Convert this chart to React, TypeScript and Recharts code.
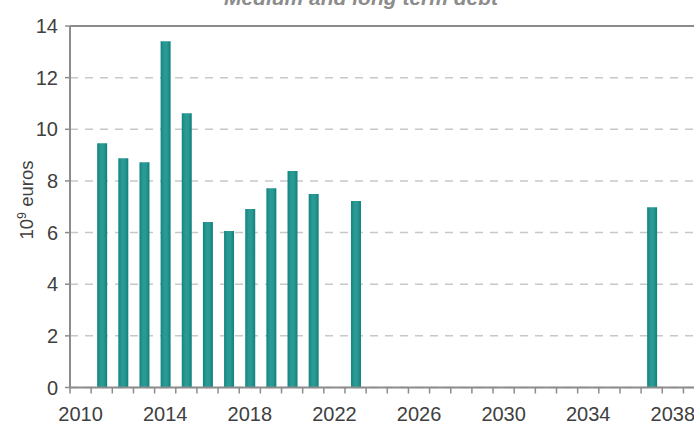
import React from "react";
import { BarChart, Bar, XAxis, YAxis, CartesianGrid, ReferenceLine } from "recharts";

const years = [2011, 2012, 2013, 2014, 2015, 2016, 2017, 2018, 2019, 2020, 2021, 2023, 2037];
const values = [9.46, 8.88, 8.72, 13.41, 10.62, 6.41, 6.06, 6.91, 7.72, 8.38, 7.49, 7.22, 6.98];
const yTicks = [0, 2, 4, 6, 8, 10, 12, 14];
const xLabelYears = [2010, 2014, 2018, 2022, 2026, 2030, 2034, 2038];
const title = "Medium and long term debt";

const data = years.map((y, i) => ({ year: y, value: values[i] }));

const xDomain = [2009.5, 2039];
const boundaries: number[] = [];
for (let b = xDomain[0]; b < xDomain[1]; b += 1) boundaries.push(b);
const xTicks = [...boundaries, ...xLabelYears].sort((a, b) => a - b);

const FONT = '"Liberation Sans", Arial, Helvetica, sans-serif';
const AXIS = "#8c8c8c";
const TEXT = "#404040";

function XTick(props: any) {
  const { x, y, payload } = props;
  const v = payload.value;
  if (Number.isInteger(v)) {
    return (
      <text x={x} y={y + 33.5} textAnchor="middle" fontSize={20} fill={TEXT} fontFamily={FONT}>
        {v}
      </text>
    );
  }
  return <line x1={x} x2={x} y1={y} y2={y + 6} stroke={AXIS} strokeWidth={1.5} />;
}

function YLabel(props: any) {
  const cx = 33;
  const cy = 200;
  return (
    <text
      x={cx}
      y={cy}
      transform={`rotate(-90, ${cx}, ${cy})`}
      textAnchor="middle"
      fontSize={18.5}
      fill={TEXT}
      fontFamily={FONT}
    >
      <tspan>10</tspan>
      <tspan fontSize={12.5} dy={-7}>9</tspan>
      <tspan dy={7}> euros</tspan>
    </text>
  );
}

export default function App() {
  return (
    <div style={{ position: "absolute", left: 0, top: 0, width: 694, height: 423, background: "#fff" }}>
      <svg width={694} height={30} style={{ position: "absolute", left: 0, top: 0, overflow: "visible" }}>
        <text
          x={361}
          y={4.5}
          textAnchor="middle"
          fontSize={21}
          fontStyle="italic"
          fontWeight="bold"
          fill="#8c8c8c"
          fontFamily={FONT}
        >
          {title}
        </text>
      </svg>
      <BarChart
        width={694}
        height={423}
        data={data}
        margin={{ top: 26, right: 0, bottom: 0, left: 8 }}
        barSize={10}
      >
        <defs>
          <linearGradient id="barGrad" x1="0" y1="0" x2="1" y2="0">
            <stop offset="0" stopColor="#118580" />
            <stop offset="0.35" stopColor="#2b9994" />
            <stop offset="0.65" stopColor="#2a9893" />
            <stop offset="1" stopColor="#0f807b" />
          </linearGradient>
        </defs>
        <CartesianGrid
          horizontal={true}
          vertical={false}
          stroke="#c8c8c8"
          strokeWidth={1.5}
          strokeDasharray="8 7"
        />
        <XAxis
          dataKey="year"
          type="number"
          domain={xDomain}
          ticks={xTicks}
          interval={0}
          allowDataOverflow
          height={35.5}
          tickLine={false}
          tickSize={0}
          tickMargin={0}
          axisLine={{ stroke: AXIS, strokeWidth: 2 }}
          tick={<XTick />}
        />
        <YAxis
          type="number"
          domain={[0, 14]}
          ticks={yTicks}
          interval={0}
          width={62}
          tickSize={5}
          tickMargin={7}
          tickLine={{ stroke: AXIS, strokeWidth: 1.5 }}
          axisLine={{ stroke: AXIS, strokeWidth: 2 }}
          tick={{ fontSize: 20, fill: TEXT, fontFamily: FONT }}
          label={<YLabel />}
        />
        <ReferenceLine y={14} stroke={AXIS} strokeWidth={2} />
        <Bar dataKey="value" fill="url(#barGrad)" isAnimationActive={false} />
      </BarChart>
    </div>
  );
}
